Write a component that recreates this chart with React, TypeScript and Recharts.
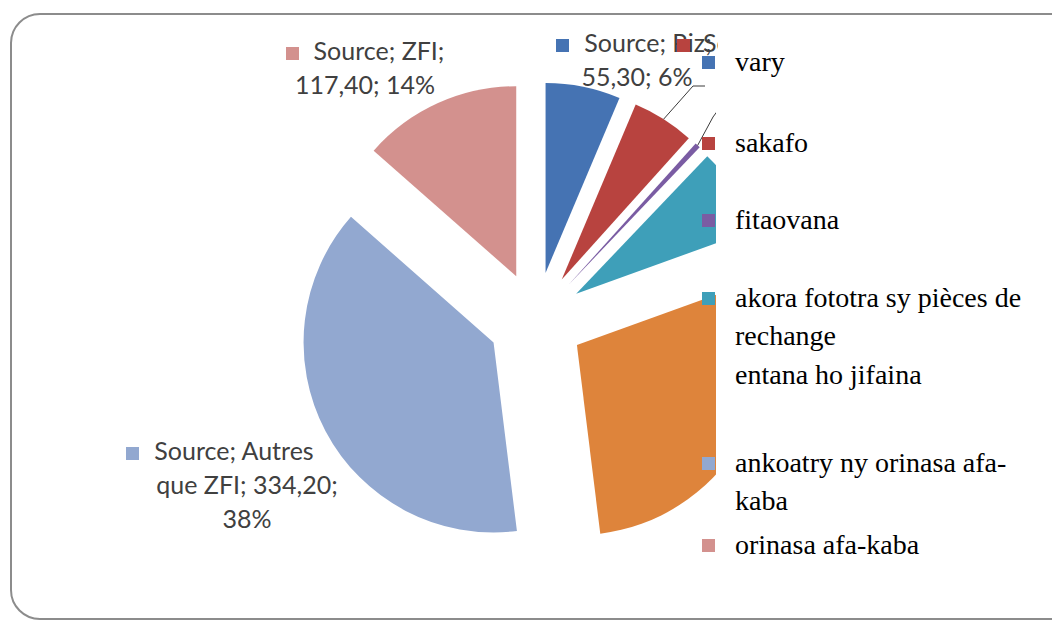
import React from 'react';
import { PieChart, Pie, Cell } from 'recharts';

// slice data (clockwise from 12 o'clock)
const legendNames = [
  'vary',
  'sakafo',
  'fitaovana',
  'akora fototra sy pièces de rechange',
  'entana ho jifaina',
  'ankoatry ny orinasa afa-kaba',
  'orinasa afa-kaba',
];
const labelNames = ['Riz', 'Sakafo', 'Fitaovana', 'Akora fototra', 'Entana', 'Autres que ZFI', 'ZFI'];
const values = [55.3, 46, 4, 64, 248.2, 334.2, 117.4];
const colors = ['#4573B3', '#B8433F', '#7A5CA3', '#3E9FB9', '#DE843B', '#92A8D0', '#D3918E'];

const data = values.map((v, i) => ({ name: legendNames[i], value: v }));
const total = values.reduce((a, b) => a + b, 0);

const CX = 531;
const CY = 315;
const RADIUS = 190;
const EXPLODE = 48;

// each slice is pulled out along its bisector
const cum: number[] = [];
values.reduce((acc, v, i) => {
  cum[i] = acc;
  return acc + v;
}, 0);
const offsetFor = (i: number) => {
  const mid = ((cum[i] + values[i] / 2) / total) * 2 * Math.PI;
  return { x: CX + EXPLODE * Math.sin(mid), y: CY - EXPLODE * Math.cos(mid) };
};

const num = (i: number) => values[i].toFixed(2).replace('.', ',');
const pct = (i: number) => Math.round((values[i] / total) * 100) + '%';

// data label boxes: which slice, words per line, box position
const dataLabels = [
  { index: 0, split: [2, 2], left: 537, top: 25, width: 200, firstShift: -3 },
  { index: 6, split: [2, 2], left: 265, top: 33, width: 200, firstShift: 0 },
  { index: 5, split: [2, 3, 1], left: 142, top: 433, width: 210, firstShift: -27 },
];

// leader lines end points
const leaderEnds: Record<number, [number, number][]> = {
  1: [[693, 86], [705, 86]],
  2: [[713, 117], [724, 102]],
};

const legendTops = [62, 143, 220, 298, 375, 463, 545];
const hiddenMarkers = [4];

const labelFont = 'Lato, "Open Sans", sans-serif';
const legendFont = '"Liberation Serif", "DejaVu Serif", serif';

const Marker = ({ color, style }: { color: string; style?: React.CSSProperties }) => (
  <span style={{ display: 'inline-block', width: 13, height: 13, background: color, ...style }} />
);

const blankLabel = () => <g />;

const leaderLine = (k: number) => (props: any) => {
  const ends = leaderEnds[k];
  if (props.index !== k || !ends) return <g key={`ll-${props.index}`} />;
  const start = props.points[0];
  const pts = [[start.x, start.y], ...ends].map((p) => p.join(',')).join(' ');
  return <polyline key={`ll-${k}`} points={pts} fill="none" stroke="#3a3a3a" strokeWidth={1} />;
};

export default function App() {
  return (
    <div style={{ position: 'fixed', left: 0, top: 0, width: 1052, height: 622, background: '#fff', overflow: 'hidden' }}>
      <div
        style={{
          position: 'absolute',
          left: 10,
          top: 13,
          width: 1070,
          height: 603,
          border: '2px solid #8c8c8c',
          borderRadius: 30,
        }}
      />
      <div style={{ position: 'absolute', left: 0, top: 0 }}>
        <PieChart width={1052} height={622}>
          {values.map((_, k) => {
            const o = offsetFor(k);
            return (
              <Pie
                key={`pie-${k}`}
                data={data}
                dataKey="value"
                cx={o.x}
                cy={o.y}
                outerRadius={RADIUS}
                startAngle={90}
                endAngle={-270}
                stroke="none"
                isAnimationActive={false}
                label={leaderEnds[k] ? blankLabel : false}
                labelLine={leaderEnds[k] ? leaderLine(k) : false}
              >
                {data.map((d, i) => (
                  <Cell key={`c-${k}-${i}`} fill={i === k ? colors[i] : 'none'} />
                ))}
              </Pie>
            );
          })}
        </PieChart>
      </div>

      {dataLabels.map((l) => {
        const words = `Source; ${labelNames[l.index]}; ${num(l.index)}; ${pct(l.index)}`.split(' ');
        const lines: string[] = [];
        let p = 0;
        l.split.forEach((n) => {
          lines.push(words.slice(p, p + n).join(' '));
          p += n;
        });
        return (
          <div
            key={`lab-${l.index}`}
            style={{
              position: 'absolute',
              left: l.left,
              top: l.top,
              width: l.width,
              textAlign: 'center',
              fontFamily: labelFont,
              fontSize: 25,
              lineHeight: '34px',
              color: '#404040',
            }}
          >
            {lines.map((t, j) => (
              <div
                key={j}
                style={{ whiteSpace: 'nowrap', transform: j === 0 ? `translateX(${l.firstShift}px)` : undefined }}
              >
                {j === 0 && <Marker color={colors[l.index]} style={{ marginRight: 15 }} />}
                {t}
              </div>
            ))}
          </div>
        );
      })}

      {/* second slice label, mostly hidden under the legend */}
      <div
        style={{
          position: 'absolute',
          left: 672,
          top: 25,
          width: 46,
          overflow: 'hidden',
          whiteSpace: 'nowrap',
          fontFamily: labelFont,
          fontSize: 25,
          lineHeight: '34px',
          color: '#404040',
        }}
      >
        <Marker color={colors[1]} style={{ marginLeft: 5, marginRight: 13 }} />
        {`Source; ${labelNames[1]}; ${num(1)}; ${pct(1)}`}
      </div>

      {/* legend */}
      <div style={{ position: 'absolute', left: 716, top: 52, width: 330, height: 540, background: '#fff' }} />
      {legendNames.map((n, i) => (
        <div key={`lg-${i}`}>
          {!hiddenMarkers.includes(i) && (
            <Marker color={colors[i]} style={{ position: 'absolute', left: 702, top: legendTops[i] - 6 }} />
          )}
          <div
            style={{
              position: 'absolute',
              left: 735,
              top: legendTops[i] - 19,
              width: 305,
              fontFamily: legendFont,
              fontSize: 28,
              lineHeight: '38px',
              color: '#000',
            }}
          >
            {n}
          </div>
        </div>
      ))}
    </div>
  );
}
